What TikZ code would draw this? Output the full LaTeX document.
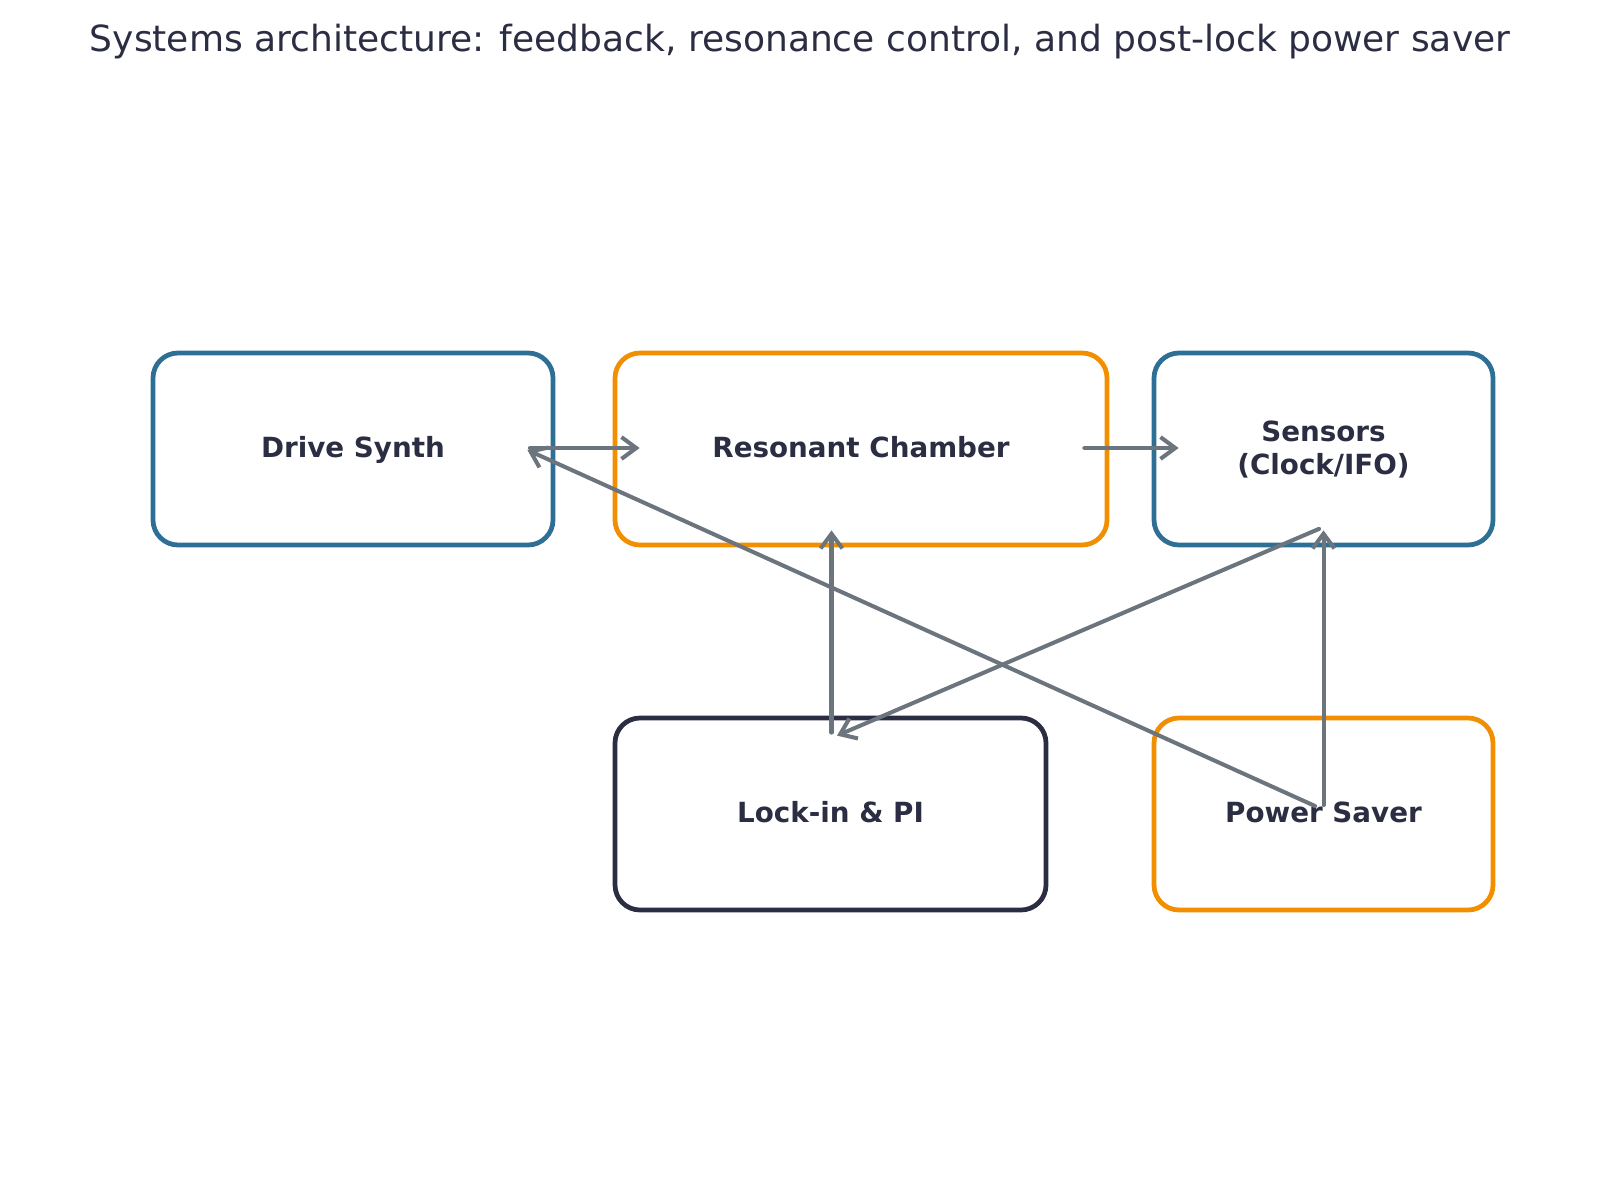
\documentclass[tikz,border=0pt]{standalone}
\usepackage{fontspec}
\setmainfont{DejaVu Sans}
\usetikzlibrary{calc,arrows.meta}
\definecolor{synthblue}{HTML}{2E6F95}
\definecolor{chamberorange}{HTML}{F18F01}
\definecolor{lockdark}{HTML}{2B2D42}
\definecolor{arrowgray}{HTML}{6C757D}

\begin{document}
\begin{tikzpicture}[
    block/.style={draw, line width=1.35pt, rounded corners=0.25cm, fill=white,
        inner sep=0pt, minimum height=1.92cm, align=center, text=lockdark,
        text depth=0.1em, font=\fontsize{7.9}{9.4}\selectfont\bfseries},
    link/.style={draw=arrowgray, line width=1.15pt, line cap=round,
        -{Straight Barb[length=4.2pt,width=6.2pt]}}]
          %\draw[help lines] (0,0) grid (16,12);
          \useasboundingbox (0,0) rectangle (16,12);
          \node[font=\fontsize{10.25}{12}\selectfont, text=lockdark] (title) at (8,11.58)
              {Systems architecture: feedback, resonance control, and post-lock power saver};
          % top row
          \node[block, draw=synthblue, minimum width=4cm] (drive) at (3.53,7.51) {Drive Synth};
          \node[block, draw=chamberorange, minimum width=4.92cm] (chamber) at (8.61,7.51) {Resonant Chamber};
          \node[block, draw=synthblue, minimum width=3.39cm] (sensors) at (13.235,7.51) {Sensors\\(Clock/IFO)};
          % bottom row
          \node[block, draw=lockdark, minimum width=4.31cm] (lockin) at (8.305,3.86) {Lock-in \& PI};
          \node[block, draw=chamberorange, minimum width=3.39cm] (saver) at (13.235,3.86) {Power Saver};
          % links
          \draw[link] ($(drive.east)+(-0.255,0.01)$) -- ($(chamber.west)+(0.27,0.01)$);
          \draw[link] ($(chamber.east)+(-0.25,0.01)$) -- ($(sensors.west)+(0.27,0.01)$);
          \draw[link] ($(lockin.north)+(0.01,-0.17)$) -- ($(lockin.north |- chamber.south)+(0.01,0.17)$);
          \draw[link] ($(sensors.south)+(-0.045,0.185)$) -- ($(lockin.north)+(0.065,-0.2)$);
          \draw[link] ($(saver.center)+(-0.085,0.08)$) -- ($(drive.east)+(-0.28,-0.01)$);
          \draw[link] ($(saver.center)+(0,0.09)$) -- ($(sensors.south)+(0,0.17)$);
\end{tikzpicture}
\end{document}
